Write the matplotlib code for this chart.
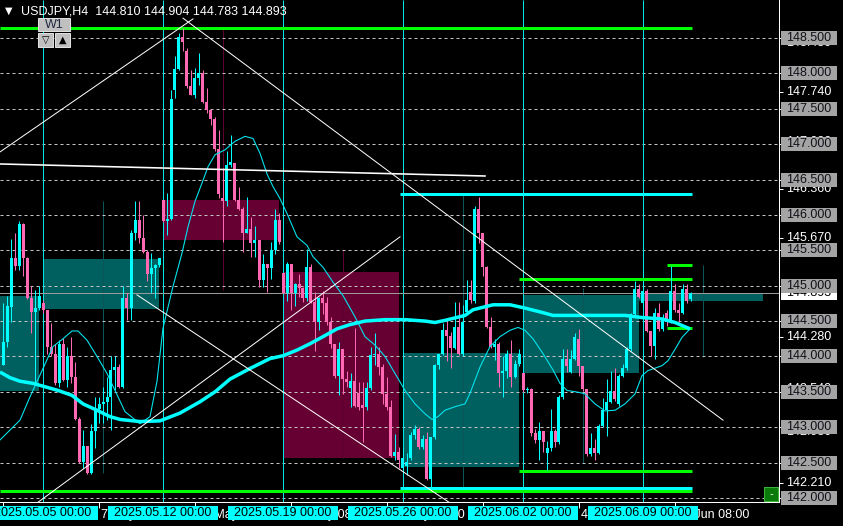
import matplotlib
matplotlib.use("Agg")
import matplotlib.pyplot as plt
from matplotlib.patches import Rectangle

W, H = 843, 526          # figure size in px
PLOT_W, PLOT_H = 779, 502  # chart area (right price scale / bottom time scale outside)
FONT = ["Liberation Sans", "DejaVu Sans"]

# ---------------- data: USDJPY H4, bar 0 = 2025.05.05 00:00 ----------------
first_bar = -10
opens = [
    143.88, 144.21, 144.70, 145.39, 145.28, 145.87, 145.39, 144.83, 144.63, 144.68,
    144.75, 144.65, 144.14, 144.04, 143.62, 144.17, 143.67, 144.00, 143.71, 143.12,
    142.51, 142.73, 142.35, 142.95, 143.26, 143.33, 143.36, 143.43, 143.81, 143.85,
    143.57, 144.82, 144.68, 145.74, 145.93, 145.67, 145.48, 145.17, 145.25, 145.29,
    146.21, 145.91, 145.94, 147.76, 148.06, 148.52, 148.31, 147.82, 147.70, 147.93,
    148.00, 147.60, 147.48, 147.35, 146.93, 146.24, 146.19, 146.71, 146.73, 146.21,
    146.09, 145.75, 145.80, 145.60, 145.65, 145.08, 145.30, 145.25, 145.51, 145.93,
    145.18, 144.89, 145.31, 144.89, 145.03, 144.97, 144.82, 145.27, 144.77, 144.49,
    144.82, 144.75, 144.49, 144.18, 143.73, 144.11, 143.68, 143.55, 143.66, 143.48,
    143.31, 143.29, 143.55, 144.02, 144.04, 143.85, 143.47, 143.29, 142.60, 142.65,
    142.42, 142.45, 142.56, 142.89, 142.97, 142.72, 142.83, 142.27, 142.86, 143.88,
    144.04, 144.37, 144.29, 144.12, 144.42, 144.04, 144.63, 144.91, 144.78, 146.09,
    145.74, 145.27, 144.42, 144.14, 144.17, 143.77, 143.79, 144.04, 143.71, 143.90,
    143.76, 143.52, 143.54, 142.92, 142.82, 142.94, 142.64, 142.70, 142.95, 142.79,
    143.43, 143.97, 143.78, 143.97, 144.25, 143.87, 143.54, 142.62, 142.71, 142.64,
    143.02, 143.24, 143.36, 143.51, 143.33, 143.73, 143.83, 144.10, 144.60, 144.95,
    144.76, 144.93, 144.36, 144.15, 144.62, 144.39, 144.62, 144.49, 144.93, 144.65,
    144.62, 144.95, 144.810,
]
highs = [
    144.75, 144.85, 145.66, 145.74, 145.92, 145.88, 145.41, 145.00, 144.94, 145.00,
    144.80, 144.66, 144.47, 144.18, 144.23, 144.26, 144.14, 144.28, 143.92, 143.15,
    142.96, 142.73, 143.05, 143.43, 143.43, 143.57, 143.71, 144.00, 144.00, 143.90,
    145.00, 144.89, 145.79, 146.19, 146.19, 146.00, 145.50, 145.46, 145.30, 145.39,
    146.21, 146.31, 147.77, 148.24, 148.57, 148.64, 148.36, 148.05, 148.08, 148.29,
    148.05, 147.79, 147.50, 147.39, 147.20, 146.66, 146.90, 147.13, 146.73, 146.40,
    146.11, 146.25, 145.97, 145.85, 145.65, 145.45, 145.30, 145.62, 146.09, 146.03,
    145.18, 145.33, 145.31, 145.04, 145.17, 144.98, 145.52, 145.31, 144.91, 144.84,
    144.93, 144.84, 144.56, 144.18, 144.21, 144.11, 143.79, 143.77, 144.40, 143.64,
    143.64, 143.64, 144.14, 144.33, 144.14, 143.90, 143.71, 143.38, 142.91, 142.72,
    142.70, 142.63, 142.93, 143.03, 143.00, 142.89, 142.93, 142.86, 143.90, 144.04,
    144.47, 144.52, 144.35, 144.77, 144.77, 144.73, 145.08, 145.08, 146.12, 146.26,
    145.74, 145.28, 144.56, 144.25, 144.21, 144.00, 144.09, 144.23, 143.95, 144.11,
    143.76, 143.57, 143.55, 142.98, 143.08, 142.94, 142.81, 143.26, 142.98, 143.45,
    144.11, 144.11, 144.09, 144.33, 144.39, 143.87, 143.54, 142.92, 142.83, 143.04,
    143.42, 143.68, 143.79, 143.84, 143.75, 143.89, 144.13, 144.62, 145.06, 145.02,
    145.07, 144.96, 144.36, 144.69, 144.76, 144.60, 144.65, 145.28, 145.02, 144.76,
    145.02, 145.02, 144.904,
]
lows = [
    143.88, 144.14, 144.49, 145.22, 145.22, 145.13, 144.81, 144.33, 143.62, 144.66,
    144.62, 144.04, 144.00, 143.60, 143.57, 143.65, 143.57, 143.62, 143.10, 142.49,
    142.43, 142.34, 142.34, 142.70, 143.06, 143.06, 143.10, 142.96, 143.52, 143.55,
    143.55, 144.51, 144.51, 145.65, 145.60, 145.46, 145.06, 144.90, 144.82, 145.27,
    145.90, 145.72, 145.93, 147.65, 148.05, 148.31, 147.79, 147.70, 147.65, 147.84,
    147.58, 147.44, 147.27, 146.90, 146.24, 145.62, 146.12, 146.68, 146.20, 146.07,
    145.48, 145.74, 145.41, 145.41, 144.98, 144.98, 144.91, 145.10, 145.45, 145.59,
    144.89, 144.79, 144.65, 144.72, 144.84, 144.77, 144.78, 144.75, 144.08, 144.37,
    144.60, 144.44, 144.12, 143.70, 143.45, 143.47, 143.57, 143.29, 143.29, 143.24,
    142.79, 143.24, 143.52, 143.88, 143.74, 143.33, 143.25, 142.58, 142.54, 142.42,
    142.39, 142.33, 142.54, 142.84, 142.69, 142.69, 142.25, 142.11, 142.84, 143.82,
    144.02, 143.93, 143.84, 144.10, 144.02, 144.00, 144.61, 144.75, 144.75, 145.60,
    145.13, 144.40, 144.12, 143.95, 143.57, 143.43, 143.69, 143.57, 143.69, 143.87,
    143.50, 143.48, 142.88, 142.78, 142.53, 142.65, 142.39, 142.67, 142.72, 142.76,
    143.40, 143.78, 143.76, 143.95, 143.73, 143.51, 142.60, 142.60, 142.54, 142.62,
    143.00, 142.87, 143.34, 143.37, 143.30, 143.71, 143.81, 144.08, 144.58, 144.83,
    144.70, 144.34, 144.00, 143.96, 144.36, 144.36, 144.43, 144.47, 144.63, 144.48,
    144.60, 144.76, 144.783,
]
closes = [
    144.21, 144.71, 145.39, 145.28, 145.87, 145.39, 144.83, 144.63, 144.68, 144.85,
    144.65, 144.14, 144.04, 143.62, 144.17, 143.67, 144.00, 143.71, 143.12, 142.51,
    142.73, 142.35, 142.95, 143.26, 143.33, 143.36, 143.43, 143.81, 143.85, 143.57,
    144.82, 144.68, 145.74, 145.93, 145.67, 145.48, 145.17, 145.25, 145.29, 145.39,
    145.91, 145.94, 147.64, 148.06, 148.52, 148.45, 147.82, 147.70, 147.93, 148.00,
    147.60, 147.48, 147.35, 146.93, 146.30, 146.19, 146.71, 146.75, 146.21, 146.09,
    145.75, 145.80, 145.60, 145.65, 145.08, 145.30, 145.25, 145.51, 145.93, 145.62,
    144.89, 145.31, 144.89, 145.03, 144.97, 144.82, 145.27, 144.77, 144.49, 144.82,
    144.75, 144.49, 144.18, 143.73, 144.11, 143.68, 143.64, 143.66, 143.30, 143.29,
    143.27, 143.55, 144.02, 144.04, 143.85, 143.47, 143.29, 142.60, 142.65, 142.54,
    142.56, 142.51, 142.89, 142.97, 142.72, 142.83, 142.27, 142.86, 143.88, 144.04,
    144.37, 144.29, 144.12, 144.42, 144.04, 144.49, 144.80, 144.80, 146.09, 145.74,
    145.27, 144.42, 144.14, 144.17, 143.77, 143.79, 144.04, 143.71, 143.90, 144.04,
    143.52, 143.54, 142.92, 142.82, 142.94, 142.79, 142.70, 142.95, 142.79, 143.43,
    143.97, 143.86, 143.97, 144.28, 143.87, 143.54, 142.62, 142.71, 142.64, 143.02,
    143.24, 143.36, 143.51, 143.40, 143.73, 143.83, 144.10, 144.60, 144.95, 144.84,
    144.93, 144.36, 144.15, 144.62, 144.39, 144.51, 144.49, 144.93, 144.65, 144.62,
    144.95, 144.79, 144.893,
]

# moving averages (bar position, price)
ma_slow_bars = [-10.75, -8.25, -5.75, -2.5, 0, 3.75, 7.25, 10, 13.5, 16.75, 19.25, 24.25,
                29.25, 34.25, 39.25, 43, 46.75, 51.75, 56.75, 60, 63.5, 66.75, 70, 73.5,
                76.75, 80.5, 85.5, 90.5, 95.5, 98, 100.5, 105.5, 107.5, 112.5, 116.75, 120,
                124.25, 127.5, 134.25, 138, 145.5, 149.75, 154.75, 158, 161.75]
ma_slow = [143.78, 143.70, 143.65, 143.62, 143.58, 143.52, 143.45, 143.33, 143.24, 143.15,
           143.11, 143.08, 143.09, 143.20, 143.36, 143.50, 143.68, 143.83, 143.97, 144.01,
           144.09, 144.18, 144.28, 144.39, 144.45, 144.50, 144.52, 144.52, 144.50, 144.48,
           144.51, 144.58, 144.66, 144.73, 144.73, 144.69, 144.63, 144.58, 144.58, 144.58,
           144.58, 144.55, 144.53, 144.48, 144.39]
ma_fast_bars = [-10.75, -8.25, -5.75, -3.25, 0, 2.5, 5, 7.25, 8.75, 11, 13.5, 16, 18, 20.5,
                24.25, 26.75, 28.5, 30, 32.5, 34.75, 36.25, 38, 39.75, 41.25, 43, 45.5, 48,
                50.5, 52.5, 54.25, 56, 57.5, 59.25, 61, 63.5, 66, 67.5, 70, 72.5, 75, 78,
                80.5, 83, 85.5, 88, 90.5, 93, 95.5, 97.25, 98.75, 100.5, 103, 105.5, 106.75,
                109.25, 111.75, 114.25, 116.75, 118.75, 120.5, 122.5, 125, 127.5, 129.25,
                131, 134.25, 135.5, 138, 140.5, 143, 145.5, 148, 149.75, 151.25, 154.75,
                156.25, 158, 159.75, 161.75]
ma_fast = [142.82, 142.96, 143.10, 143.43, 143.83, 144.14, 144.25, 144.36, 144.36, 144.23,
           144.00, 143.76, 143.52, 143.22, 143.05, 143.15, 143.65, 144.40, 144.99, 145.46,
           145.83, 146.19, 146.45, 146.68, 146.85, 146.92, 147.04, 147.11, 147.08, 146.87,
           146.58, 146.40, 146.23, 146.02, 145.69, 145.57, 145.41, 145.26, 145.05, 144.86,
           144.56, 144.28, 144.16, 144.00, 143.76, 143.52, 143.33, 143.19, 143.11, 143.15,
           143.24, 143.29, 143.33, 143.48, 143.85, 144.14, 144.28, 144.37, 144.41, 144.37,
           144.25, 144.04, 143.81, 143.62, 143.52, 143.49, 143.47, 143.33, 143.23, 143.24,
           143.33, 143.47, 143.73, 143.80, 143.87, 143.94, 144.10, 144.27, 144.39]

# weekly range boxes
box_start = [-12, 0, 30.25, 60, 90, 120, 149]
box_end = [-1, 29, 59, 89, 119, 149, 180]
box_low = [143.51, 144.67, 145.64, 142.57, 142.44, 143.77, 144.79]
box_high = [144.85, 145.38, 146.21, 145.19, 144.05, 144.87, 144.90]
box_color = ["#005f5f", "#005f5f", "#660033", "#660033", "#005f5f", "#005f5f", "#005f5f"]

# mid-week range markers
mark_bars = [15, 45, 75, 105, 135, 165]
mark_low = [142.35, 144.94, 142.57, 142.14, 142.49, 143.99]
mark_high = [146.19, 148.64, 145.50, 146.28, 144.97, 145.29]
mark_color = ["#0b5656", "#5e0030", "#5e0030", "#0b5656", "#0b5656", "#0b5656"]

# horizontal levels
level_price = [148.64, 142.095, 142.135, 146.30, 145.09, 142.38, 145.29, 144.40]
level_start = [-10.75, -10.75, 89.25, 89.25, 119, 119, 156, 156]
level_end = [162.25, 162.25, 162.25, 162.25, 162.25, 162.25, 162.25, 162.25]
level_color = ["#00ff00", "#00ff00", "#00ffff", "#00ffff", "#00ff00", "#00ff00", "#00ff00", "#00ff00"]

# white trend lines
trend_x0 = [-10.75, 35, -1.25, 23.5]
trend_y0 = [146.89, 148.78, 141.94, 144.87]
trend_x1 = [37.5, 170, 89.25, 101.5]
trend_y1 = [148.77, 143.10, 145.69, 141.94]
flat_line_x = [-10.75, 110.5]
flat_line_y = [146.72, 146.55]

# scales
grid_prices = [148.5, 148.0, 147.5, 147.0, 146.5, 146.0, 145.5, 145.0,
               144.5, 144.0, 143.5, 143.0, 142.5, 142.0]
extra_prices = [147.74, 146.36, 145.67, 144.28, 142.21]
hidden_prices = [148.43, 147.03, 143.54, 142.93]
week_bars = [0, 30, 60, 90, 120, 150]
week_labels = ["2025.05.05 00:00", "2025.05.12 00:00", "2025.05.19 00:00",
               "2025.05.26 00:00", "2025.06.02 00:00", "2025.06.09 00:00"]
tick_bars = [-10, 14, 38, 62, 86, 110, 134, 158]
label_bars = [14, 38, 62, 86, 134, 158]
tick_labels = ["7 May 08:00", "13 May 08:00", "19 May 08:00",
               "23 May 08:00", "4 Jun 08:00", "10 Jun 08:00"]

# ---------------- geometry ----------------
PX_PER_BAR = 4.0
PX_PER_PRICE = 70.77
X_LEFT = -43 / PX_PER_BAR
X_RIGHT = X_LEFT + PLOT_W / PX_PER_BAR
Y_BOTTOM = 142.0 - 4 / PX_PER_PRICE
Y_TOP = Y_BOTTOM + PLOT_H / PX_PER_PRICE
PT = 0.72  # one pixel in points at dpi 100

fig = plt.figure(figsize=(W / 100, H / 100), dpi=100, facecolor="black")
ax = fig.add_axes([0, 1 - PLOT_H / H, PLOT_W / W, PLOT_H / H])
ax.set_facecolor("black")
ax.set_xlim(X_LEFT, X_RIGHT)
ax.set_ylim(Y_BOTTOM, Y_TOP)
for side in ["left", "top"]:
    ax.spines[side].set_visible(False)
for side in ["right", "bottom"]:
    ax.spines[side].set_color("white")
    ax.spines[side].set_linewidth(PT)

ax.yaxis.tick_right()
ax.set_yticks(grid_prices + extra_prices)
ax.tick_params(axis="y", colors="white", length=3, width=PT, labelright=False)
ax.set_xticks(tick_bars)
ax.tick_params(axis="x", colors="white", length=4, width=PT, labelbottom=False)

# boxes
for x0, x1, lo, hi, col in zip(box_start, box_end, box_low, box_high, box_color):
    ax.add_patch(Rectangle((x0, lo), x1 - x0, hi - lo, facecolor=col, edgecolor="none", zorder=1))
ax.vlines(mark_bars, mark_low, mark_high, colors=mark_color, lw=PT, zorder=1.5)

# grid + separators
ax.hlines(grid_prices, X_LEFT, X_RIGHT, colors="#c4c4c4", linestyles=(0, (3, 3)), lw=PT, zorder=2)
ax.vlines(week_bars, Y_BOTTOM, Y_TOP, colors="#00e8e8", lw=PT, zorder=2.2)
ax.axhline(closes[-1], color="#9a9a9a", lw=PT, zorder=2.3)

for p, x0, x1, col in zip(level_price, level_start, level_end, level_color):
    ax.plot([x0, x1], [p, p], color=col, lw=3 * PT, solid_capstyle="butt", zorder=2.5)

# candles
bars = list(range(first_bar, first_bar + len(opens)))
cols = ["#00ffff" if c >= o else "#ff69b4" for o, c in zip(opens, closes)]
ax.vlines(bars, lows, highs, colors=cols, lw=PT, zorder=3)
body_low = [min(o, c) for o, c in zip(opens, closes)]
body_h = [max(abs(c - o), 1.0 / PX_PER_PRICE) for o, c in zip(opens, closes)]
ax.bar(bars, body_h, bottom=body_low, width=0.75, color=cols, linewidth=0, zorder=3.1)

# moving averages
ax.plot(ma_fast_bars, ma_fast, color="#00e5ee", lw=1.1 * PT, zorder=3.5)
ax.plot(ma_slow_bars, ma_slow, color="#00ffff", lw=3.5 * PT, solid_capstyle="butt", zorder=3.6)

# trend lines
for x0, y0, x1, y1 in zip(trend_x0, trend_y0, trend_x1, trend_y1):
    ax.plot([x0, x1], [y0, y1], color="white", lw=PT, zorder=4)
ax.plot(flat_line_x, flat_line_y, color="white", lw=1.6 * PT, zorder=4)

# ---------------- price scale ----------------
ytr = ax.get_yaxis_transform()
box_h = 14 / PX_PER_PRICE
for p in extra_prices + hidden_prices:
    ax.text(786 / PLOT_W, p, f"{p:.3f}", transform=ytr, ha="left", va="center",
            color="white", fontsize=9, family=FONT, clip_on=False, zorder=4)
ax.add_patch(Rectangle((781 / PLOT_W, closes[-1] - box_h / 2), 56 / PLOT_W, box_h, transform=ytr,
                       facecolor="white", edgecolor="none", clip_on=False, zorder=5))
ax.text(786 / PLOT_W, closes[-1], f"{closes[-1]:.3f}", transform=ytr, ha="left", va="center",
        color="black", fontsize=9, family=FONT, clip_on=False, zorder=5.1)
for p in grid_prices:
    ax.add_patch(Rectangle((781 / PLOT_W, p - box_h / 2), 56 / PLOT_W, box_h, transform=ytr,
                           facecolor="#a4a4a4", edgecolor="none", clip_on=False, zorder=6))
    ax.text(786 / PLOT_W, p, f"{p:.3f}", transform=ytr, ha="left", va="center",
            color="#101018", fontsize=9, family=FONT, clip_on=False, zorder=6.1)

# ---------------- time scale ----------------
xtr = ax.get_xaxis_transform()
for b, t in zip(label_bars, tick_labels):
    ax.text(b + 0.5, -13 / PLOT_H, t, transform=xtr, ha="left", va="center",
            color="white", fontsize=9, family=FONT, clip_on=False, zorder=4)
for b, t in zip(week_bars, week_labels):
    ax.add_patch(Rectangle((b - 55 / PX_PER_BAR, -18 / PLOT_H), 110 / PX_PER_BAR, 14 / PLOT_H,
                           transform=xtr, facecolor="#00ffff", edgecolor="none",
                           clip_on=False, zorder=6))
    ax.text(b, -11 / PLOT_H, t, transform=xtr, ha="center", va="center",
            color="black", fontsize=9, family=FONT, clip_on=False, zorder=6.1)


# ---------------- terminal widgets ----------------
def fig_rect(x, y, w, h, fc, ec="none"):
    fig.add_artist(Rectangle((x / W, 1 - (y + h) / H), w / W, h / H, transform=fig.transFigure,
                             facecolor=fc, edgecolor=ec, lw=PT))


fig.text(5 / W, 1 - 11 / H, "\u25bc", color="white", fontsize=7, family=["DejaVu Sans"], va="center")
fig.text(21 / W, 1 - 11 / H,
         f"USDJPY,H4  {opens[-1]:.3f} {highs[-1]:.3f} {lows[-1]:.3f} {closes[-1]:.3f}",
         color="white", fontsize=9, family=FONT, va="center")
fig_rect(38, 18, 32, 13, "#c0c0c0", "#e0e0e0")
fig.text(54 / W, 1 - 25 / H, "W1", color="#202840", fontsize=9, family=FONT, ha="center", va="center")
fig_rect(38, 33, 15, 14, "#c0c0c0", "#e0e0e0")
fig_rect(55, 33, 15, 14, "#c0c0c0", "#e0e0e0")
fig.text(45.5 / W, 1 - 40 / H, "\u25bd", color="black", fontsize=7, family=["DejaVu Sans"], ha="center", va="center")
fig.text(62.5 / W, 1 - 40 / H, "\u25b2", color="black", fontsize=7, family=["DejaVu Sans"], ha="center", va="center")
fig_rect(764, 487, 14, 14, "#0a7a0a", "#3cb43c")
fig.text(771 / W, 1 - 494 / H, "-", color="white", fontsize=8, family=FONT, ha="center", va="center")

fig.savefig("out.png", dpi=100, facecolor="black")
